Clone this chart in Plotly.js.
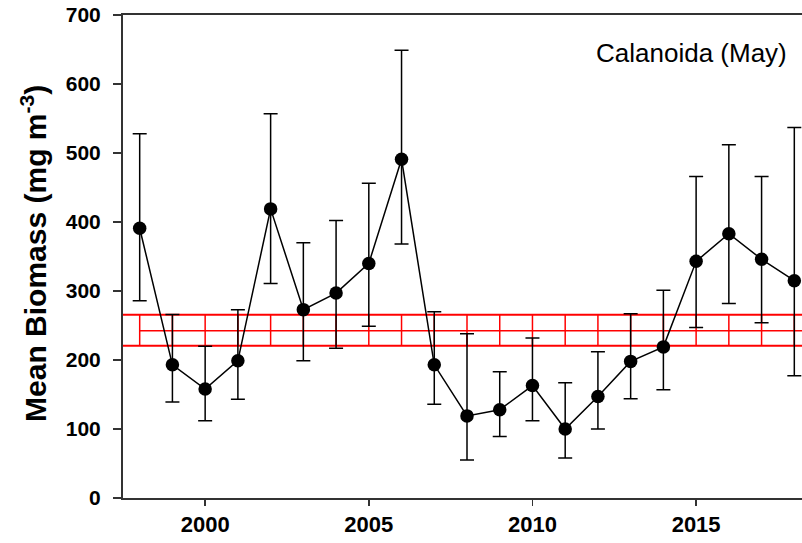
<!DOCTYPE html>
<html>
<head>
<meta charset="utf-8">
<script src="https://cdn.plot.ly/plotly-3.0.1.min.js"></script>
<style>html,body{margin:0;padding:0;background:#fff;}#chart{width:802px;height:543px;}</style>
</head>
<body>
<div id="chart"></div>
<script>
const years = [1998,1999,2000,2001,2002,2003,2004,2005,2006,2007,2008,2009,2010,2011,2012,2013,2014,2015,2016,2017,2018];
const biomass = [391,193,158,199,419,273,297,340,491,193,119,128,163,100,147,198,219,343,383,346,315];
const upperBar = [528,266,220,273,557,370,402,456,649,270,238,183,232,167,212,267,301,466,512,466,537];
const lowerBar = [286,139,112,143,311,199,217,249,368,136,55,89,112,58,100,144,157,247,282,254,177];
const meanValue = 242.5;
const meanUpper = 265.5;
const meanLower = 220.7;
const xTicks = [2000,2005,2010,2015];
const yTicks = [0,100,200,300,400,500,600,700];

const xRange = [1997.49, 2018.235];
const FONT = 'Liberation Sans, Arial, sans-serif';

const meanY = years.map(() => meanValue);
const meanPlus = years.map(() => meanUpper - meanValue);
const meanMinus = years.map(() => meanValue - meanLower);

const traces = [
  {
    x: xRange, y: [meanUpper, meanUpper], mode: 'lines',
    line: {color: '#ff0000', width: 2}, hoverinfo: 'skip', showlegend: false
  },
  {
    x: xRange, y: [meanLower, meanLower], mode: 'lines',
    line: {color: '#ff0000', width: 2}, hoverinfo: 'skip', showlegend: false
  },
  {
    x: [years[0], xRange[1]], y: [meanValue, meanValue], mode: 'lines',
    line: {color: '#ff0000', width: 1.5}, hoverinfo: 'skip', showlegend: false
  },
  {
    x: years, y: meanY, mode: 'markers',
    marker: {size: 1, color: 'rgba(255,0,0,0)'},
    error_y: {type: 'data', symmetric: false, array: meanPlus, arrayminus: meanMinus,
              color: '#ff0000', thickness: 1.5, width: 0},
    hoverinfo: 'skip', showlegend: false
  },
  {
    x: years, y: biomass, mode: 'lines+markers',
    line: {color: '#000000', width: 1.5},
    marker: {size: 13.5, color: '#000000'},
    error_y: {type: 'data', symmetric: false,
              array: biomass.map((v, i) => upperBar[i] - v),
              arrayminus: biomass.map((v, i) => v - lowerBar[i]),
              color: '#000000', thickness: 1.5, width: 7},
    showlegend: false
  }
];

const layout = {
  width: 802, height: 543,
  margin: {l: 122.7, r: 0, t: 15.3, b: 44.7},
  paper_bgcolor: '#ffffff', plot_bgcolor: '#ffffff',
  font: {family: FONT, color: '#000000'},
  showlegend: false,
  xaxis: {
    range: xRange, tickvals: xTicks, ticktext: xTicks.map(String),
    showgrid: false, zeroline: false,
    showline: true, linecolor: '#333333', linewidth: 2, mirror: true,
    ticks: 'outside', ticklen: 6, tickwidth: 1.5, tickcolor: '#333333',
    tickfont: {family: FONT, size: 22, color: '#000000', weight: 'bold'},
    automargin: false
  },
  yaxis: {
    range: [0, 700], tickvals: yTicks, ticktext: yTicks.map(String),
    showgrid: false, zeroline: false,
    showline: true, linecolor: '#333333', linewidth: 2,
    ticks: 'outside', ticklen: 8, tickwidth: 1.5, tickcolor: '#333333',
    ticklabelstandoff: 8,
    tickfont: {family: FONT, size: 21, color: '#000000', weight: 'bold'},
    automargin: false
  },
  annotations: [
    {
      xref: 'paper', yref: 'paper', x: 0.981, y: 0.922, xanchor: 'right', yanchor: 'middle',
      text: 'Calanoida (May)', showarrow: false,
      font: {family: FONT, size: 26, color: '#000000'}
    },
    {
      xref: 'paper', yref: 'paper', x: (33 - 122.7) / 679.3, y: 0.506,
      xanchor: 'center', yanchor: 'middle', textangle: -90,
      text: '<b>Mean Biomass (mg m<sup>-3</sup>)</b>', showarrow: false,
      font: {family: FONT, size: 30, color: '#000000'}
    }
  ]
};

Plotly.newPlot('chart', traces, layout, {displayModeBar: false, staticPlot: true});
</script>
</body>
</html>
